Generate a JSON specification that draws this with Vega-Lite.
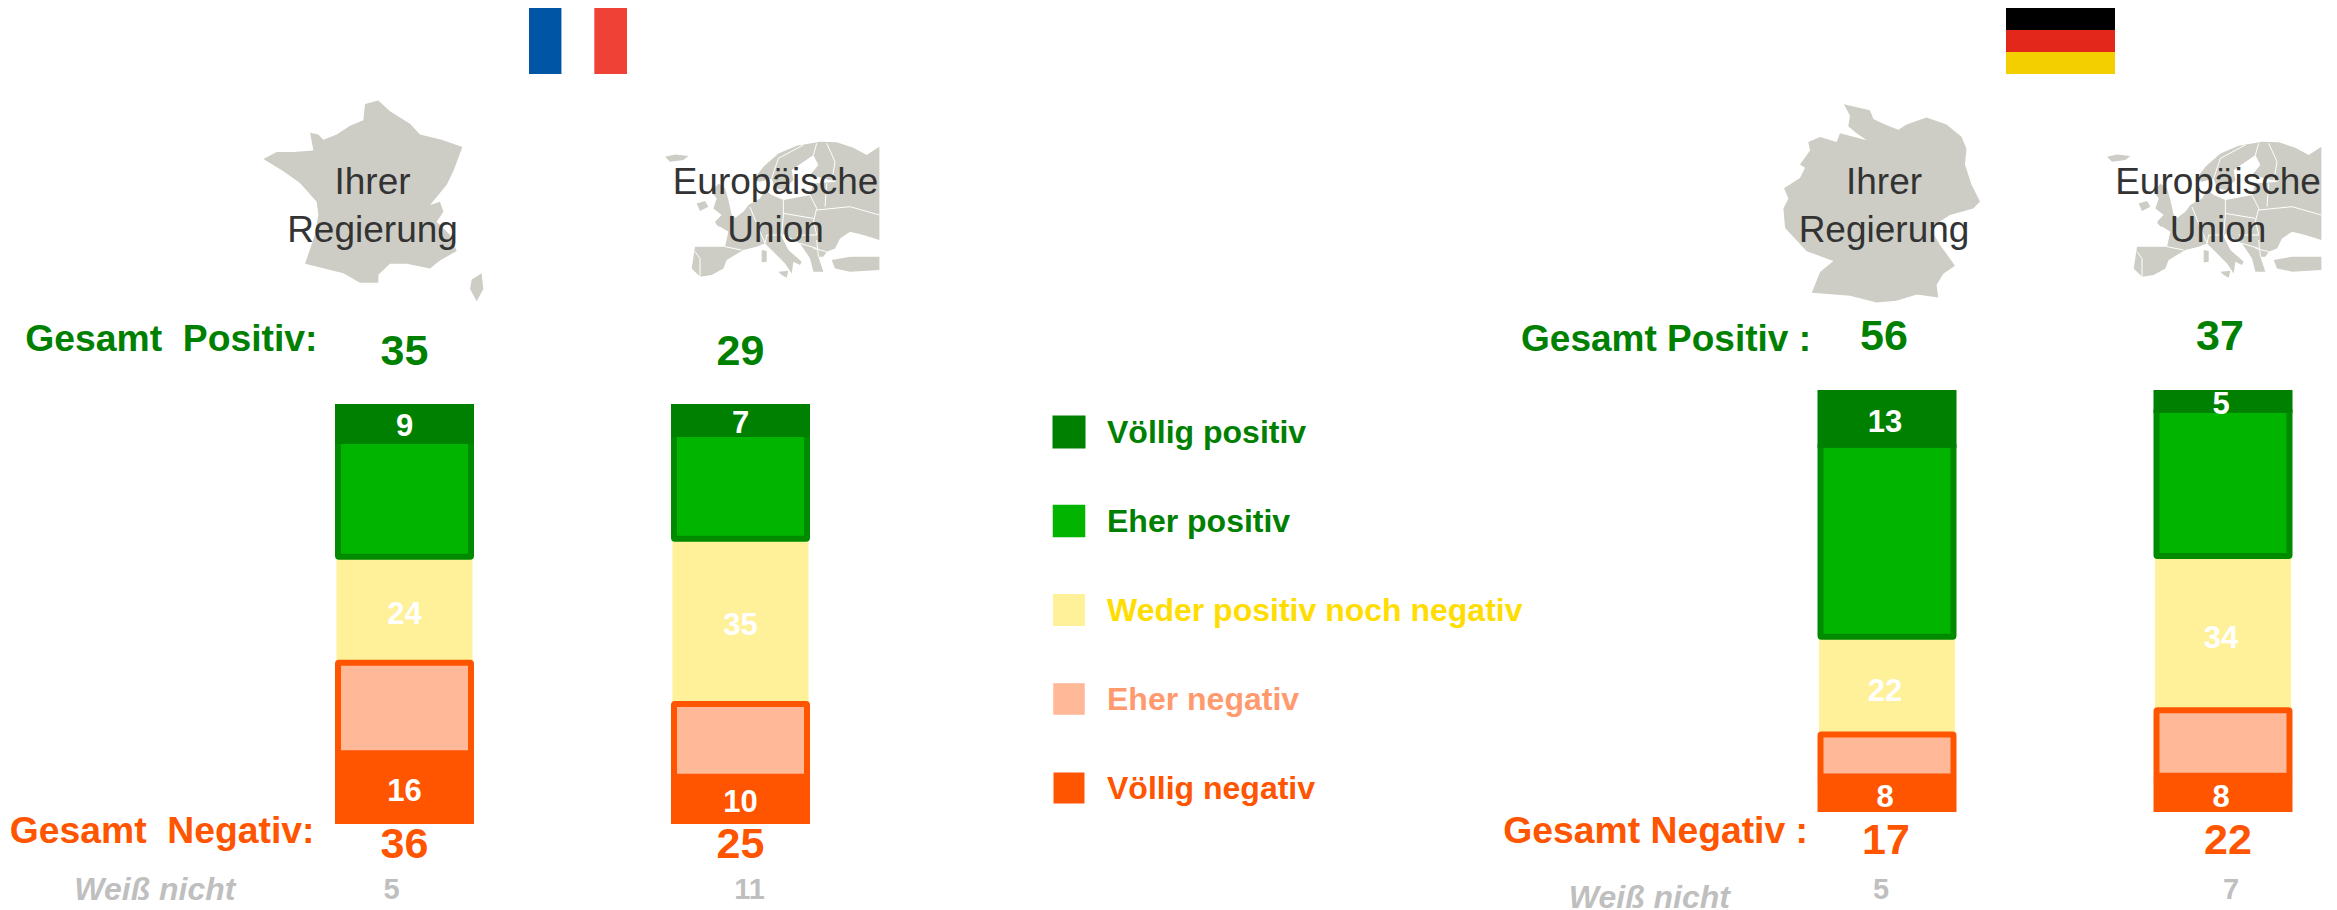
{"$schema":"https://vega.github.io/schema/vega-lite/v6.json","width":2337,"height":910,"autosize":{"type":"fit","contains":"padding"},"padding":0,"background":"white","config":{"view":{"stroke":null},"text":{"font":"Liberation Sans"}},
"datasets":{
"fr":[{"ziel":"Ihrer Regierung","kategorie":"Völlig negativ","rang":1,"wert":16},{"ziel":"Ihrer Regierung","kategorie":"Eher negativ","rang":2,"wert":20},{"ziel":"Ihrer Regierung","kategorie":"Weder positiv noch negativ","rang":3,"wert":24},{"ziel":"Ihrer Regierung","kategorie":"Eher positiv","rang":4,"wert":26},{"ziel":"Ihrer Regierung","kategorie":"Völlig positiv","rang":5,"wert":9},
{"ziel":"Europäische Union","kategorie":"Völlig negativ","rang":1,"wert":10},{"ziel":"Europäische Union","kategorie":"Eher negativ","rang":2,"wert":15},{"ziel":"Europäische Union","kategorie":"Weder positiv noch negativ","rang":3,"wert":35},{"ziel":"Europäische Union","kategorie":"Eher positiv","rang":4,"wert":22},{"ziel":"Europäische Union","kategorie":"Völlig positiv","rang":5,"wert":7}],
"de":[{"ziel":"Ihrer Regierung","kategorie":"Völlig negativ","rang":1,"wert":8},{"ziel":"Ihrer Regierung","kategorie":"Eher negativ","rang":2,"wert":9},{"ziel":"Ihrer Regierung","kategorie":"Weder positiv noch negativ","rang":3,"wert":22},{"ziel":"Ihrer Regierung","kategorie":"Eher positiv","rang":4,"wert":43},{"ziel":"Ihrer Regierung","kategorie":"Völlig positiv","rang":5,"wert":13},
{"ziel":"Europäische Union","kategorie":"Völlig negativ","rang":1,"wert":8},{"ziel":"Europäische Union","kategorie":"Eher negativ","rang":2,"wert":14},{"ziel":"Europäische Union","kategorie":"Weder positiv noch negativ","rang":3,"wert":34},{"ziel":"Europäische Union","kategorie":"Eher positiv","rang":4,"wert":32},{"ziel":"Europäische Union","kategorie":"Völlig positiv","rang":5,"wert":5}],
"fr_ges":[{"ziel":"Ihrer Regierung","positiv":35,"negativ":36,"weiss":5,"titel1":"Ihrer","titel2":"Regierung"},{"ziel":"Europäische Union","positiv":29,"negativ":25,"weiss":11,"titel1":"Europäische","titel2":"Union"}],
"de_ges":[{"ziel":"Ihrer Regierung","positiv":56,"negativ":17,"weiss":5,"titel1":"Ihrer","titel2":"Regierung"},{"ziel":"Europäische Union","positiv":37,"negativ":22,"weiss":7,"titel1":"Europäische","titel2":"Union"}],
"zeilen":[{"ziel":"Ihrer Regierung","fr_pos":"Gesamt\u00a0\u00a0Positiv:","fr_neg":"Gesamt\u00a0\u00a0Negativ:","de_pos":"Gesamt Positiv :","de_neg":"Gesamt Negativ :","wn":"Weiß nicht"}],
"legende":[{"kategorie":"Völlig positiv"},{"kategorie":"Eher positiv"},{"kategorie":"Weder positiv noch negativ"},{"kategorie":"Eher negativ"},{"kategorie":"Völlig negativ"}],
"flagge_fr":[{"streifen":"blau","rang":1,"anteil":1},{"streifen":"weiss","rang":2,"anteil":1},{"streifen":"rot","rang":3,"anteil":1}],
"flagge_de":[{"streifen":"gold","rang":1,"anteil":1},{"streifen":"rot","rang":2,"anteil":1},{"streifen":"schwarz","rang":3,"anteil":1}],
"karte_fr":[{"type":"Feature","properties":{},"geometry":{"type":"MultiPolygon","coordinates":[[[[1.85,50.9],[2.72,51.05],[3.48,50.6],[4.79,50.08],[5.44,49.63],[6.86,49.4],[8.21,49.1],[7.62,48.05],[7.19,47.45],[6.1,46.55],[6.75,46.7],[6.97,46.25],[6.53,45.8],[7.4,45.2],[7.84,44.45],[6.75,44.0],[6.1,43.63],[4.57,43.85],[3.48,43.85],[2.72,43.33],[2.72,42.95],[1.52,42.95],[0.44,43.4],[-2.07,43.85],[-1.42,45.2],[-1.2,46.1],[-1.31,46.7],[-2.4,47.53],[-3.48,48.05],[-4.79,48.58],[-3.92,48.88],[-2.83,48.88],[-1.52,48.95],[-1.74,49.7],[-1.2,49.63],[-0.87,49.4],[0,49.63],[0.87,50.0],[1.74,50.23],[1.85,50.9]]],[[[9.47,43.4],[9.58,42.65],[9.15,42.05],[8.71,42.65],[8.82,43.1],[9.47,43.4]]]]}}],
"karte_de":[{"type":"Feature","properties":{},"geometry":{"type":"Polygon","coordinates":[[[8.77,53.81],[9.96,53.65],[10.12,53.41],[10.65,53.26],[11.26,53.12],[11.64,53.26],[12.55,53.45],[13.47,53.26],[14.16,52.92],[14.38,52.59],[14.31,52.15],[14.61,51.58],[15.0,51.1],[14.69,50.9],[13.62,50.71],[12.71,50.33],[13.16,49.85],[13.85,49.22],[13.32,48.98],[13.01,48.64],[13.09,48.26],[12.1,48.35],[11.18,48.16],[10.27,48.11],[9.05,48.31],[7.3,48.4],[7.68,49.03],[8.29,49.36],[7.07,49.65],[6.08,50.33],[6.0,50.9],[6.23,51.19],[6.03,51.48],[6.76,51.77],[6.99,52.06],[6.76,52.15],[7.22,52.54],[7.14,52.78],[7.68,52.92],[8.44,52.78],[8.59,53.02],[9.81,52.83],[9.35,53.02],[8.97,53.21],[9.05,53.5],[8.77,53.81]]]}}],
"karte_eu":[{"type":"Feature","properties":{},"geometry":{"type":"MultiPolygon","coordinates":[[[[-15.67,67.25],[-13.17,67.83],[-9.83,67.42],[-11.08,66.42],[-14.42,66.0],[-15.67,67.25]]],[[[-7.75,55.58],[-5.67,56.17],[-4.83,54.75],[-6.92,53.67],[-7.75,55.58]]],[[[-2.33,60.58],[-0.67,59.33],[0.17,56.42],[1.0,52.67],[2.67,51.42],[-2.33,49.75],[-3.17,51.0],[-1.5,52.67],[-3.58,54.33],[-2.75,56.83],[-4.0,58.5],[-2.33,60.58]]],[[[6.42,61.42],[8.92,64.75],[12.67,68.08],[17.25,70.0],[23.08,71.0],[27.25,70.83],[31.42,69.5],[34.75,67.67],[37.92,69.75],[37.92,46.42],[33.92,47.67],[30.58,48.5],[28.08,46.83],[26.83,44.33],[24.75,43.5],[23.92,42.25],[22.67,42.25],[23.92,38.5],[21.42,38.5],[20.58,41.83],[18.08,45.58],[13.92,48.08],[13.5,47.25],[15.17,43.92],[18.5,41.0],[18.08,40.17],[16.42,41.0],[16.0,38.08],[14.33,40.58],[11.42,43.5],[9.33,45.58],[7.25,44.75],[3.92,43.92],[1.83,42.67],[-0.25,41.42],[-1.08,39.33],[-4.0,37.67],[-6.92,37.25],[-9.0,39.33],[-8.17,44.75],[-0.67,44.75],[0.17,48.5],[-3.17,50.58],[0.58,51.0],[3.92,53.5],[5.17,55.17],[8.08,56.83],[9.33,58.92],[11.0,57.67],[13.92,56.42],[20.58,57.67],[21.42,60.58],[27.25,61.0],[20.58,62.67],[22.67,65.17],[21.42,67.67],[16.0,63.92],[16.42,61.42],[13.92,58.92],[11.83,59.33],[11.0,61.83],[8.08,61.0],[6.42,61.42]]],[[[26.0,41.42],[30.58,42.25],[37.92,42.25],[37.92,38.92],[30.58,38.5],[26.83,39.33],[26.0,41.42]]],[[[12.67,38.5],[15.17,38.75],[14.75,37.0],[13.5,37.67],[12.67,38.5]]],[[[8.5,43.92],[9.75,43.67],[9.75,41.0],[8.5,40.83],[8.5,43.92]]]]}}],
"grenzen_eu":[{"type":"Feature","properties":{},"geometry":{"type":"MultiLineString","coordinates":[[[-0.67,44.75],[3.5,43.92]],[[-8.17,43.5],[-6.92,41.83],[-6.92,37.25]],[[5.58,54.67],[7.25,50.5],[9.33,45.58]],[[9.33,45.58],[9.75,47.67],[13.5,47.67]],[[13.92,56.42],[13.92,52.67],[13.5,47.67]],[[20.58,57.67],[22.25,54.33],[21.42,51.0]],[[13.92,53.08],[21.42,51.83]],[[22.25,53.92],[30.58,54.75],[37.92,52.67]],[[21.42,51.42],[22.25,47.67],[17.25,47.67]],[[22.67,42.25],[22.25,46.42]],[[24.75,43.5],[21.42,44.33]],[[18.08,45.58],[22.25,44.33]],[[24.75,60.58],[24.33,54.75]],[[11.0,61.83],[12.67,66.83],[18.92,70.17]],[[21.42,67.67],[22.25,70.58]],[[24.75,70.58],[26.83,66.0],[26.0,61.0]]]}}]
},
"layer":[
{"data":{"name":"karte_fr"},"mark":{"type":"geoshape","fill":"#CDCDC5","stroke":null},"projection":{"type":"mercator","center":[0,47],"scale":877,"translate":[336.7,195]}},
{"data":{"name":"karte_de"},"mark":{"type":"geoshape","fill":"#CDCDC5","stroke":null},"projection":{"type":"mercator","center":[10.5,51],"scale":1252,"translate":[1881.7,205]}},
{"data":{"name":"karte_eu"},"mark":{"type":"geoshape","fill":"#CDCDC5","stroke":null},"projection":{"type":"equirectangular","center":[0,50],"scale":229.2,"translate":[727.7,225.7]}},
{"data":{"name":"grenzen_eu"},"mark":{"type":"geoshape","filled":false,"fill":null,"stroke":"white","strokeWidth":1},"projection":{"type":"equirectangular","center":[0,50],"scale":229.2,"translate":[727.7,225.7]}},
{"data":{"name":"karte_eu"},"mark":{"type":"geoshape","fill":"#CDCDC5","stroke":null},"projection":{"type":"equirectangular","center":[0,50],"scale":229.2,"translate":[2169.7,225.7]}},
{"data":{"name":"grenzen_eu"},"mark":{"type":"geoshape","filled":false,"fill":null,"stroke":"white","strokeWidth":1},"projection":{"type":"equirectangular","center":[0,50],"scale":229.2,"translate":[2169.7,225.7]}},
{"data":{"name":"flagge_fr"},"transform":[{"stack":"anteil","sort":[{"field":"rang","order":"ascending"}],"groupby":[],"as":["a0","a1"]}],"mark":{"type":"rect"},"encoding":{"x":{"field":"a0","type":"quantitative","scale":{"domain":[0,3],"range":[529,627],"nice":false,"zero":false},"axis":null},"x2":{"field":"a1"},"y":{"datum":0,"type":"quantitative","scale":{"domain":[0,1],"range":[74,8],"nice":false},"axis":null},"y2":{"datum":1},"color":{"field":"streifen","type":"nominal","scale":{"domain":["blau","weiss","rot"],"range":["#0055A4","#FFFFFF","#EF4135"]},"legend":null}}},
{"data":{"name":"flagge_de"},"transform":[{"stack":"anteil","sort":[{"field":"rang","order":"ascending"}],"groupby":[],"as":["a0","a1"]}],"mark":{"type":"rect"},"encoding":{"y":{"field":"a0","type":"quantitative","scale":{"domain":[0,3],"range":[74,8],"nice":false,"zero":false},"axis":null},"y2":{"field":"a1"},"x":{"datum":0,"type":"quantitative","scale":{"domain":[0,1],"range":[2006,2115],"nice":false},"axis":null},"x2":{"datum":1},"color":{"field":"streifen","type":"nominal","scale":{"domain":["gold","rot","schwarz"],"range":["#F3CF00","#E3271B","#000000"]},"legend":null}}},
{"data":{"name":"legende"},"mark":{"type":"square","filled":true,"opacity":1},"encoding":{"x":{"datum":0,"type":"quantitative","scale":{"domain":[0,1],"range":[1069,1107],"nice":false},"axis":null},"y":{"field":"kategorie","type":"nominal","sort":null,"scale":{"type":"point","padding":0,"range":[432,788]},"axis":null},"size":{"field":"kategorie","type":"nominal","scale":{"domain":["Völlig positiv","Eher positiv","Weder positiv noch negativ","Eher negativ","Völlig negativ"],"range":[1089,961,961,961,1296]},"legend":null},"color":{"field":"kategorie","type":"nominal","scale":{"domain":["Völlig positiv","Eher positiv","Weder positiv noch negativ","Eher negativ","Völlig negativ"],"range":["#008000","#00B400","#FFF09A","#FFB898","#FF5400"]},"legend":null}}},
{"data":{"name":"legende"},"mark":{"type":"text","align":"left","baseline":"middle","fontSize":32,"fontWeight":"bold","dy":1},"encoding":{"x":{"datum":1,"type":"quantitative","scale":{"domain":[0,1],"range":[1069,1107],"nice":false},"axis":null},"y":{"field":"kategorie","type":"nominal","sort":null,"scale":{"type":"point","padding":0,"range":[432,788]},"axis":null},"text":{"field":"kategorie"},"color":{"field":"kategorie","type":"nominal","scale":{"domain":["Völlig positiv","Eher positiv","Weder positiv noch negativ","Eher negativ","Völlig negativ"],"range":["#008000","#008000","#FFDD00","#FF9A6E","#FF5400"]},"legend":null}}},
{"data":{"name":"fr"},"transform":[{"stack":"wert","groupby":["ziel"],"sort":[{"field":"rang","order":"ascending"}],"offset":"normalize","as":["y0","y1"]}],
"encoding":{"x":{"field":"ziel","type":"nominal","scale":{"type":"point","domain":["Ihrer Regierung","Europäische Union"],"range":[404.5,740.5],"padding":0},"axis":null}},
"layer":[
{"transform":[{"filter":{"field":"kategorie","equal":"Weder positiv noch negativ"}}],"mark":{"type":"bar","width":136,"color":"#FFF09A"},"encoding":{"y":{"field":"y1","type":"quantitative","scale":{"domain":[0,1],"range":[824,404],"nice":false,"zero":false},"axis":null},"y2":{"field":"y0"}}},
{"transform":[{"filter":{"field":"kategorie","equal":"Eher positiv"}}],"mark":{"type":"bar","width":133,"color":"#00B400","stroke":"#008A00","strokeWidth":6,"cornerRadius":1,"yOffset":-3,"y2Offset":-2},"encoding":{"y":{"field":"y1","type":"quantitative","scale":{"domain":[0,1],"range":[824,404],"nice":false,"zero":false},"axis":null},"y2":{"field":"y0"}}},
{"transform":[{"filter":{"field":"kategorie","equal":"Eher negativ"}}],"mark":{"type":"bar","width":133,"color":"#FFB898","stroke":"#FF5400","strokeWidth":6,"cornerRadius":1,"yOffset":-2},"encoding":{"y":{"field":"y1","type":"quantitative","scale":{"domain":[0,1],"range":[824,404],"nice":false,"zero":false},"axis":null},"y2":{"field":"y0"}}},
{"transform":[{"filter":{"field":"kategorie","equal":"Völlig positiv"}}],"mark":{"type":"bar","width":139,"color":"#008000"},"encoding":{"y":{"field":"y1","type":"quantitative","scale":{"domain":[0,1],"range":[824,404],"nice":false,"zero":false},"axis":null},"y2":{"field":"y0"}}},
{"transform":[{"filter":{"field":"kategorie","equal":"Völlig negativ"}}],"mark":{"type":"bar","width":139,"color":"#FF5400"},"encoding":{"y":{"field":"y1","type":"quantitative","scale":{"domain":[0,1],"range":[824,404],"nice":false,"zero":false},"axis":null},"y2":{"field":"y0"}}},
{"transform":[{"filter":{"field":"kategorie","oneOf":["Völlig positiv","Weder positiv noch negativ","Völlig negativ"]}},{"fold":["y0","y1"],"as":["kante","position"]}],"mark":{"type":"text","color":"white","fontSize":31,"fontWeight":"bold","baseline":"middle","dy":3},"encoding":{"y":{"aggregate":"mean","field":"position","type":"quantitative","scale":{"domain":[0,1],"range":[824,404],"nice":false,"zero":false},"axis":null},"detail":{"field":"kategorie"},"text":{"field":"wert","type":"quantitative"}}},
{"data":{"name":"fr_ges"},"mark":{"type":"text","color":"#008000","fontSize":43,"fontWeight":"bold","baseline":"middle","dy":-52},"encoding":{"y":{"datum":1,"type":"quantitative","scale":{"domain":[0,1],"range":[824,404],"nice":false,"zero":false},"axis":null},"text":{"field":"positiv","type":"quantitative"}}},
{"data":{"name":"fr_ges"},"mark":{"type":"text","color":"#FF5400","fontSize":43,"fontWeight":"bold","baseline":"middle","dy":21},"encoding":{"y":{"datum":0,"type":"quantitative","scale":{"domain":[0,1],"range":[824,404],"nice":false,"zero":false},"axis":null},"text":{"field":"negativ","type":"quantitative"}}},
{"data":{"name":"fr_ges"},"transform":[{"filter":{"field":"ziel","equal":"Ihrer Regierung"}}],"mark":{"type":"text","color":"#BFBFBF","fontSize":29,"fontWeight":"bold","baseline":"middle","dy":66,"dx":-13},"encoding":{"y":{"datum":0,"type":"quantitative","scale":{"domain":[0,1],"range":[824,404],"nice":false,"zero":false},"axis":null},"text":{"field":"weiss","type":"quantitative"}}},
{"data":{"name":"fr_ges"},"transform":[{"filter":{"field":"ziel","equal":"Europäische Union"}}],"mark":{"type":"text","color":"#BFBFBF","fontSize":29,"fontWeight":"bold","baseline":"middle","dy":66,"dx":9},"encoding":{"y":{"datum":0,"type":"quantitative","scale":{"domain":[0,1],"range":[824,404],"nice":false,"zero":false},"axis":null},"text":{"field":"weiss","type":"quantitative"}}},
{"data":{"name":"zeilen"},"mark":{"type":"text","color":"#008000","fontSize":37.3,"fontWeight":"bold","align":"right","baseline":"middle","dy":-64,"dx":-87},"encoding":{"y":{"datum":1,"type":"quantitative","scale":{"domain":[0,1],"range":[824,404],"nice":false,"zero":false},"axis":null},"text":{"field":"fr_pos"}}},
{"data":{"name":"zeilen"},"mark":{"type":"text","color":"#FF5400","fontSize":37.3,"fontWeight":"bold","align":"right","baseline":"middle","dy":8,"dx":-90},"encoding":{"y":{"datum":0,"type":"quantitative","scale":{"domain":[0,1],"range":[824,404],"nice":false,"zero":false},"axis":null},"text":{"field":"fr_neg"}}},
{"data":{"name":"zeilen"},"mark":{"type":"text","color":"#BFBFBF","fontSize":32,"fontWeight":"bold","fontStyle":"italic","align":"right","baseline":"middle","dy":66,"dx":-169},"encoding":{"y":{"datum":0,"type":"quantitative","scale":{"domain":[0,1],"range":[824,404],"nice":false,"zero":false},"axis":null},"text":{"field":"wn"}}}
]},
{"data":{"name":"de"},"transform":[{"stack":"wert","groupby":["ziel"],"sort":[{"field":"rang","order":"ascending"}],"offset":"normalize","as":["y0","y1"]}],
"encoding":{"x":{"field":"ziel","type":"nominal","scale":{"type":"point","domain":["Ihrer Regierung","Europäische Union"],"range":[1887,2223],"padding":0},"axis":null}},
"layer":[
{"transform":[{"filter":{"field":"kategorie","equal":"Weder positiv noch negativ"}}],"mark":{"type":"bar","width":136,"color":"#FFF09A"},"encoding":{"y":{"field":"y1","type":"quantitative","scale":{"domain":[0,1],"range":[812,390],"nice":false,"zero":false},"axis":null},"y2":{"field":"y0"}}},
{"transform":[{"filter":{"field":"kategorie","equal":"Eher positiv"}}],"mark":{"type":"bar","width":133,"color":"#00B400","stroke":"#008A00","strokeWidth":6,"cornerRadius":1,"yOffset":-3,"y2Offset":-2},"encoding":{"y":{"field":"y1","type":"quantitative","scale":{"domain":[0,1],"range":[812,390],"nice":false,"zero":false},"axis":null},"y2":{"field":"y0"}}},
{"transform":[{"filter":{"field":"kategorie","equal":"Eher negativ"}}],"mark":{"type":"bar","width":133,"color":"#FFB898","stroke":"#FF5400","strokeWidth":6,"cornerRadius":1,"yOffset":-2},"encoding":{"y":{"field":"y1","type":"quantitative","scale":{"domain":[0,1],"range":[812,390],"nice":false,"zero":false},"axis":null},"y2":{"field":"y0"}}},
{"transform":[{"filter":{"field":"kategorie","equal":"Völlig positiv"}}],"mark":{"type":"bar","width":139,"color":"#008000"},"encoding":{"y":{"field":"y1","type":"quantitative","scale":{"domain":[0,1],"range":[812,390],"nice":false,"zero":false},"axis":null},"y2":{"field":"y0"}}},
{"transform":[{"filter":{"field":"kategorie","equal":"Völlig negativ"}}],"mark":{"type":"bar","width":139,"color":"#FF5400"},"encoding":{"y":{"field":"y1","type":"quantitative","scale":{"domain":[0,1],"range":[812,390],"nice":false,"zero":false},"axis":null},"y2":{"field":"y0"}}},
{"transform":[{"filter":{"field":"kategorie","oneOf":["Völlig positiv","Weder positiv noch negativ","Völlig negativ"]}},{"fold":["y0","y1"],"as":["kante","position"]}],"mark":{"type":"text","color":"white","fontSize":31,"fontWeight":"bold","baseline":"middle","dy":4,"dx":-2},"encoding":{"y":{"aggregate":"mean","field":"position","type":"quantitative","scale":{"domain":[0,1],"range":[812,390],"nice":false,"zero":false},"axis":null},"detail":{"field":"kategorie"},"text":{"field":"wert","type":"quantitative"}}},
{"data":{"name":"de_ges"},"mark":{"type":"text","color":"#008000","fontSize":43,"fontWeight":"bold","baseline":"middle","dy":-53,"dx":-3},"encoding":{"y":{"datum":1,"type":"quantitative","scale":{"domain":[0,1],"range":[812,390],"nice":false,"zero":false},"axis":null},"text":{"field":"positiv","type":"quantitative"}}},
{"data":{"name":"de_ges"},"transform":[{"filter":{"field":"ziel","equal":"Ihrer Regierung"}}],"mark":{"type":"text","color":"#FF5400","fontSize":43,"fontWeight":"bold","baseline":"middle","dy":29,"dx":-1},"encoding":{"y":{"datum":0,"type":"quantitative","scale":{"domain":[0,1],"range":[812,390],"nice":false,"zero":false},"axis":null},"text":{"field":"negativ","type":"quantitative"}}},
{"data":{"name":"de_ges"},"transform":[{"filter":{"field":"ziel","equal":"Europäische Union"}}],"mark":{"type":"text","color":"#FF5400","fontSize":43,"fontWeight":"bold","baseline":"middle","dy":29,"dx":5},"encoding":{"y":{"datum":0,"type":"quantitative","scale":{"domain":[0,1],"range":[812,390],"nice":false,"zero":false},"axis":null},"text":{"field":"negativ","type":"quantitative"}}},
{"data":{"name":"de_ges"},"transform":[{"filter":{"field":"ziel","equal":"Ihrer Regierung"}}],"mark":{"type":"text","color":"#BFBFBF","fontSize":29,"fontWeight":"bold","baseline":"middle","dy":78,"dx":-6},"encoding":{"y":{"datum":0,"type":"quantitative","scale":{"domain":[0,1],"range":[812,390],"nice":false,"zero":false},"axis":null},"text":{"field":"weiss","type":"quantitative"}}},
{"data":{"name":"de_ges"},"transform":[{"filter":{"field":"ziel","equal":"Europäische Union"}}],"mark":{"type":"text","color":"#BFBFBF","fontSize":29,"fontWeight":"bold","baseline":"middle","dy":78,"dx":8},"encoding":{"y":{"datum":0,"type":"quantitative","scale":{"domain":[0,1],"range":[812,390],"nice":false,"zero":false},"axis":null},"text":{"field":"weiss","type":"quantitative"}}},
{"data":{"name":"zeilen"},"mark":{"type":"text","color":"#008000","fontSize":37,"fontWeight":"bold","align":"right","baseline":"middle","dy":-50,"dx":-76},"encoding":{"y":{"datum":1,"type":"quantitative","scale":{"domain":[0,1],"range":[812,390],"nice":false,"zero":false},"axis":null},"text":{"field":"de_pos"}}},
{"data":{"name":"zeilen"},"mark":{"type":"text","color":"#FF5400","fontSize":37.3,"fontWeight":"bold","align":"right","baseline":"middle","dy":20,"dx":-79},"encoding":{"y":{"datum":0,"type":"quantitative","scale":{"domain":[0,1],"range":[812,390],"nice":false,"zero":false},"axis":null},"text":{"field":"de_neg"}}},
{"data":{"name":"zeilen"},"mark":{"type":"text","color":"#BFBFBF","fontSize":32,"fontWeight":"bold","fontStyle":"italic","align":"right","baseline":"middle","dy":86,"dx":-157},"encoding":{"y":{"datum":0,"type":"quantitative","scale":{"domain":[0,1],"range":[812,390],"nice":false,"zero":false},"axis":null},"text":{"field":"wn"}}}
]},
{"data":{"name":"fr_ges"},"encoding":{"x":{"field":"ziel","type":"nominal","scale":{"type":"point","domain":["Ihrer Regierung","Europäische Union"],"range":[404.5,740.5],"padding":0},"axis":null}},
"layer":[
{"transform":[{"filter":{"field":"ziel","equal":"Ihrer Regierung"}}],"mark":{"type":"text","color":"#333333","fontSize":37,"baseline":"middle","dy":-221,"dx":-32},"encoding":{"y":{"datum":1,"type":"quantitative","scale":{"domain":[0,1],"range":[824,404],"nice":false,"zero":false},"axis":null},"text":{"field":"titel1"}}},
{"transform":[{"filter":{"field":"ziel","equal":"Ihrer Regierung"}}],"mark":{"type":"text","color":"#333333","fontSize":37,"baseline":"middle","dy":-173,"dx":-32},"encoding":{"y":{"datum":1,"type":"quantitative","scale":{"domain":[0,1],"range":[824,404],"nice":false,"zero":false},"axis":null},"text":{"field":"titel2"}}},
{"transform":[{"filter":{"field":"ziel","equal":"Europäische Union"}}],"mark":{"type":"text","color":"#333333","fontSize":37,"baseline":"middle","dy":-221,"dx":35},"encoding":{"y":{"datum":1,"type":"quantitative","scale":{"domain":[0,1],"range":[824,404],"nice":false,"zero":false},"axis":null},"text":{"field":"titel1"}}},
{"transform":[{"filter":{"field":"ziel","equal":"Europäische Union"}}],"mark":{"type":"text","color":"#333333","fontSize":37,"baseline":"middle","dy":-173,"dx":35},"encoding":{"y":{"datum":1,"type":"quantitative","scale":{"domain":[0,1],"range":[824,404],"nice":false,"zero":false},"axis":null},"text":{"field":"titel2"}}}
]},
{"data":{"name":"de_ges"},"encoding":{"x":{"field":"ziel","type":"nominal","scale":{"type":"point","domain":["Ihrer Regierung","Europäische Union"],"range":[1887,2223],"padding":0},"axis":null}},
"layer":[
{"transform":[{"filter":{"field":"ziel","equal":"Ihrer Regierung"}}],"mark":{"type":"text","color":"#333333","fontSize":37,"baseline":"middle","dy":-207,"dx":-3},"encoding":{"y":{"datum":1,"type":"quantitative","scale":{"domain":[0,1],"range":[812,390],"nice":false,"zero":false},"axis":null},"text":{"field":"titel1"}}},
{"transform":[{"filter":{"field":"ziel","equal":"Ihrer Regierung"}}],"mark":{"type":"text","color":"#333333","fontSize":37,"baseline":"middle","dy":-159,"dx":-3},"encoding":{"y":{"datum":1,"type":"quantitative","scale":{"domain":[0,1],"range":[812,390],"nice":false,"zero":false},"axis":null},"text":{"field":"titel2"}}},
{"transform":[{"filter":{"field":"ziel","equal":"Europäische Union"}}],"mark":{"type":"text","color":"#333333","fontSize":37,"baseline":"middle","dy":-207,"dx":-5},"encoding":{"y":{"datum":1,"type":"quantitative","scale":{"domain":[0,1],"range":[812,390],"nice":false,"zero":false},"axis":null},"text":{"field":"titel1"}}},
{"transform":[{"filter":{"field":"ziel","equal":"Europäische Union"}}],"mark":{"type":"text","color":"#333333","fontSize":37,"baseline":"middle","dy":-159,"dx":-5},"encoding":{"y":{"datum":1,"type":"quantitative","scale":{"domain":[0,1],"range":[812,390],"nice":false,"zero":false},"axis":null},"text":{"field":"titel2"}}}
]}
],
"resolve":{"scale":{"x":"independent","y":"independent","color":"independent","size":"independent"},"axis":{"x":"independent","y":"independent"}}}
